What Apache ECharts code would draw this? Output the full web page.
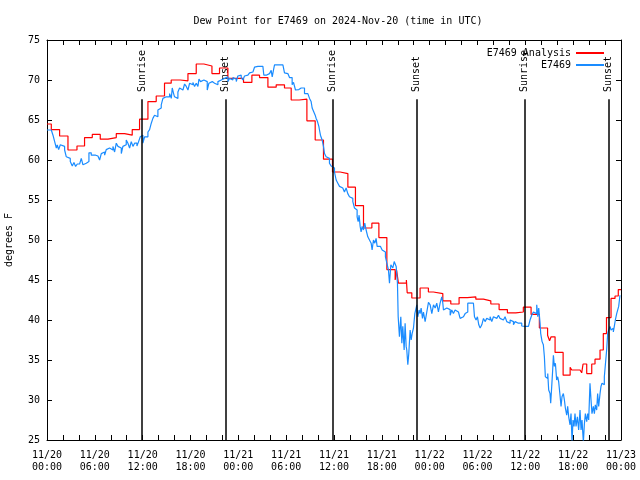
<!DOCTYPE html>
<html><head><meta charset="utf-8">
<script src="https://cdn.jsdelivr.net/npm/echarts@6/dist/echarts.min.js"></script>
<style>html,body{margin:0;padding:0;background:#fff}#c{width:640px;height:480px}</style>
</head><body><div id="c"></div>
<script>
// time axis in hours since 2024-11-20 00:00 UTC
const xTickLabels = ['11/20\n00:00','11/20\n06:00','11/20\n12:00','11/20\n18:00','11/21\n00:00','11/21\n06:00','11/21\n12:00','11/21\n18:00','11/22\n00:00','11/22\n06:00','11/22\n12:00','11/22\n18:00','11/23\n00:00'];

const redT = [0,0.54,1.58,2.63,3.76,4.71,5.68,6.68,7.65,8.69,9.73,10.69,11.61,12.66,13.70,14.74,15.58,16.71,17.68,18.72,19.68,20.69,21.64,22.69,24.65,25.70,26.66,27.71,28.75,29.79,30.63,31.63,32.60,33.64,34.68,35.81,36.77,37.74,38.69,39.70,40.75,41.63,42.63,43.67,43.85,44.08,45.08,45.18,45.76,46.80,47.84,48.47,49.65,50.65,51.69,52.73,53.79,54.74,55.67,56.71,57.75,58.80,59.75,60.72,61.76,62.79,63.04,63.23,63.73,64.74,65.62,65.82,66.86,67.07,67.24,67.70,68.33,68.74,69.37,69.78,70.18,70.75,71.25,71.66,72];
const redV = [64.5,63.8,63.0,61.25,61.75,62.8,63.2,62.6,62.8,63.3,63.1,63.8,65.1,67.3,68.0,69.6,70.0,69.9,70.8,72.0,71.75,70.8,71.5,70.2,69.7,70.6,70.3,69.1,69.4,69.0,67.5,67.6,64.9,62.5,60.1,58.5,58.3,56.6,54.3,51.5,52.1,50.3,46.3,45.0,46.2,44.6,45.0,43.4,42.75,44.0,43.5,43.3,42.4,42.0,42.8,42.9,42.6,42.4,42.0,41.3,40.9,41.0,41.6,40.7,39.0,38.1,37.4,37.9,35.95,33.1,34.1,33.75,33.8,33.4,34.5,33.3,34.5,35.1,36.25,38.3,40.3,42.7,43.0,43.8,43.8];

const blueT = [0.00,0.54,0.75,0.96,1.17,1.29,1.46,1.67,1.88,2.21,2.42,2.63,2.92,3.17,3.38,3.59,3.80,4.09,4.30,4.51,4.72,4.93,5.26,5.55,5.76,6.10,6.39,6.60,6.81,7.02,7.23,7.43,7.64,7.85,8.06,8.27,8.48,8.69,8.90,9.11,9.32,9.52,9.73,9.94,10.15,10.36,10.57,10.78,10.99,11.28,11.49,11.70,11.82,12.03,12.24,12.45,12.66,12.87,13.08,13.28,13.49,13.70,13.91,14.12,14.33,14.54,14.75,
14.96,15.17,15.38,15.59,15.71,15.88,16.00,16.21,16.42,16.63,16.84,17.05,17.26,17.47,17.68,17.89,18.09,18.30,18.51,18.72,18.93,19.06,19.26,19.47,19.68,19.89,20.10,20.31,20.52,20.73,21.02,21.23,21.44,21.65,21.86,22.06,22.27,22.48,22.69,22.90,23.11,23.32,23.53,23.74,23.94,24.15,24.36,24.57,24.78,24.99,25.20,25.41,25.62,25.83,26.03,26.24,26.45,26.66,27.08,27.20,27.50,27.71,27.91,28.12,28.25,28.42,28.54,28.75,29.17,29.59,29.79,
30.00,30.21,30.42,30.63,30.75,30.92,31.09,31.17,31.38,31.59,31.88,32.09,32.30,32.72,32.93,33.13,33.26,33.43,33.64,33.76,33.93,34.10,34.18,34.30,34.51,34.68,34.81,35.01,35.22,35.43,35.64,35.85,36.06,36.27,36.48,36.69,36.90,37.10,37.31,37.52,37.73,37.94,38.15,38.36,38.57,38.78,38.90,39.03,39.15,39.28,39.40,39.53,39.69,39.86,40.03,40.24,40.45,40.66,40.78,40.95,41.12,41.28,41.41,41.62,41.83,42.04,42.24,42.45,
42.63,42.83,42.96,43.13,43.38,43.55,43.80,43.96,44.05,44.21,44.38,44.51,44.63,44.80,44.92,45.05,45.13,45.26,45.38,45.55,45.68,45.80,45.97,46.14,46.30,46.39,46.51,46.68,46.80,46.93,47.10,47.22,47.43,47.64,47.85,48.06,48.27,48.48,48.69,48.89,49.10,49.31,49.52,49.65,49.73,49.94,50.15,50.36,50.57,50.77,50.98,51.19,51.40,51.61,51.82,52.03,52.24,52.45,52.66,52.78,53.07,53.28,53.49,53.62,53.82,53.99,54.16,54.33,54.54,54.75,54.95,55.16,55.37,55.58,55.79,56.00,56.21,56.42,56.63,56.83,57.04,57.25,57.46,57.67,57.88,58.09,58.30,58.51,58.72,58.92,59.13,59.34,59.55,59.76,59.97,60.18,60.39,60.59,60.80,61.01,61.22,61.43,61.56,61.68,61.85,
61.93,62.10,62.26,62.39,62.51,62.68,62.81,62.93,63.10,63.18,63.31,63.43,63.52,63.64,63.77,63.93,64.06,64.18,64.35,64.48,64.60,64.77,64.90,65.02,65.19,65.31,65.44,65.61,65.73,65.86,65.98,66.11,66.23,66.36,66.53,66.69,66.86,66.99,67.11,67.28,67.40,67.53,67.70,67.82,67.95,68.11,68.24,68.36,68.53,68.66,68.78,68.95,69.07,69.20,69.37,69.49,69.62,69.78,69.91,70.04,70.20,70.33,70.45,70.62,70.75,70.87,71.04,71.16,71.29,71.46,71.58,71.71,71.87];
const blueV = [63.75,63.75,63.1,62.3,61.5,61.9,61.3,61.9,61.7,61.25,60.4,60.2,59.8,59.25,59.7,59.2,59.5,59.7,60.2,59.4,59.6,59.8,60.9,60.6,60.6,60.5,60.6,60.0,60.8,61.0,60.6,61.3,61.5,61.7,61.25,61.7,61.0,62.1,61.7,61.5,60.8,61.7,61.9,62.5,62.1,61.5,62.3,61.7,62.1,61.75,62.3,62.9,63.1,62.1,62.9,62.9,63.5,63.8,64.6,65.2,65.6,65.4,66.25,66.5,66.9,67.7,67.9,
68.1,67.9,68.3,67.7,69.0,68.3,67.9,67.7,68.5,69.0,68.75,68.5,69.5,69.2,68.75,69.6,69.4,69.7,69.2,69.6,69.2,70.1,69.8,70.0,70.1,69.8,68.75,69.6,69.8,69.6,69.8,69.4,69.8,70.0,70.0,70.2,70.0,70.4,69.8,70.2,70.0,70.3,70.1,69.8,70.5,70.6,70.3,70.0,70.5,70.6,70.8,70.9,71.0,71.0,71.6,71.7,71.7,71.7,71.7,70.6,70.6,70.8,71.0,71.2,70.4,71.3,71.9,71.9,71.9,71.9,70.9,
70.8,70.6,70.3,70.3,69.4,69.7,69.7,68.75,68.8,69.0,69.2,69.0,68.3,68.25,67.7,67.3,66.5,66.1,65.6,65.2,64.8,64.2,63.75,63.1,62.5,61.7,60.8,60.4,60.2,59.6,59.25,59.0,58.5,57.5,57.1,56.7,56.5,56.25,56.0,56.5,55.8,55.4,55.2,54.8,54.0,53.75,52.9,52.3,53.1,51.7,51.0,51.7,51.25,52.1,51.25,50.4,50.0,49.6,48.75,50.0,49.6,50.2,49.2,49.2,49.4,48.75,48.5,47.9,
47.1,46.25,44.6,46.9,46.5,47.3,46.7,44.6,40.4,37.9,40.4,37.1,39.2,36.25,39.6,36.7,36.25,34.4,35.8,38.75,37.5,38.3,39.0,40.8,40.6,41.9,40.4,41.25,40.8,41.5,40.2,41.0,39.8,41.0,42.2,41.9,40.8,41.9,41.5,42.1,41.0,42.1,42.9,42.1,41.25,41.5,41.25,41.3,40.6,41.25,40.8,41.25,41.0,41.25,40.2,40.4,40.4,40.8,41.0,42.1,42.1,42.1,41.9,40.4,40.0,40.4,39.4,39.0,39.4,40.2,39.8,40.2,40.0,40.4,39.8,40.4,40.2,40.0,40.6,40.2,40.0,40.0,40.4,39.8,39.6,40.0,39.8,39.4,39.8,39.6,39.8,39.6,39.25,39.2,39.0,39.2,39.4,40.0,40.6,41.0,40.8,41.9,40.4,41.5,39.6,
38.3,37.3,36.9,35.4,32.9,32.7,33.3,31.25,30.8,29.6,31.7,33.75,35.6,34.2,34.6,32.5,32.9,32.3,30.6,29.2,30.4,30.8,30.0,29.0,28.1,29.2,27.9,26.9,28.3,24.8,27.5,26.7,28.3,26.7,27.9,26.25,28.75,26.25,27.5,24.7,26.9,28.3,27.3,28.3,27.5,32.1,30.0,28.3,29.2,28.3,29.4,28.75,30.8,29.2,30.8,31.7,32.1,31.9,32.9,34.4,36.25,38.3,38.75,39.2,38.75,38.96,38.5,39.2,40.0,40.8,41.0,41.7,43.1];

const sunT = [11.91, 22.39, 35.86, 46.39, 59.88, 70.41];
const sunLabels = ['Sunrise','Sunset','Sunrise','Sunset','Sunrise','Sunset'];

const FONT = 'DejaVu Sans Mono';
const redData = redT.map((t,i)=>[t, redV[i]]);
const blueData = blueT.map((t,i)=>[t, blueV[i]]);

const chart = echarts.init(document.getElementById('c'), null, {renderer:'canvas'});
const axisCommon = {
  min: 0, max: 72, interval: 2,
  axisLine: {show:true, onZero:false, lineStyle:{color:'#000', width:1}},
  axisTick: {show:true, inside:true, length:5, lineStyle:{color:'#000'}},
  splitLine: {show:false}
};
const yCommon = {
  type:'value', min:25, max:75, interval:5,
  axisLine: {show:true, onZero:false, lineStyle:{color:'#000', width:1}},
  axisTick: {show:true, inside:true, length:5, lineStyle:{color:'#000'}},
  splitLine: {show:false}
};
chart.setOption({
  animation:false,
  backgroundColor:'#fff',
  title: {text:'Dew Point for E7469 on 2024-Nov-20 (time in UTC)', left:333, textAlign:'center', top:11,
    textStyle:{fontFamily:FONT, fontSize:10, fontWeight:'normal', color:'#000'}},
  legend: {data:['E7469 Analysis','E7469'], orient:'vertical', right:30, top:43, align:'right',
    itemWidth:28, itemHeight:12, itemGap:2,
    itemStyle:{opacity:0},
    textStyle:{fontFamily:FONT, fontSize:10, color:'#000'}},
  grid: {left:47, right:19, top:40, bottom:40, containLabel:false, outerBoundsMode:'none'},
  xAxis: [
    Object.assign({type:'value', position:'bottom',
      axisLabel:{show:true, margin:9, fontFamily:FONT, fontSize:10, color:'#000', lineHeight:12, hideOverlap:false,
        formatter: v => (v % 6 === 0 ? xTickLabels[v/6] : '')}}, axisCommon),
    Object.assign({type:'value', position:'top', axisLabel:{show:false}}, axisCommon)
  ],
  yAxis: [
    Object.assign({position:'left', name:'degrees F', nameLocation:'middle', nameGap:33, nameRotate:90,
      nameTextStyle:{fontFamily:FONT, fontSize:10, color:'#000'},
      axisLabel:{show:true, margin:7, fontFamily:FONT, fontSize:10, color:'#000'}}, yCommon),
    Object.assign({position:'right', axisLabel:{show:false}}, yCommon)
  ],
  series: [
    {name:'sun', type:'scatter', symbolSize:0, silent:true, z:1,
      itemStyle:{opacity:1},
      data: sunT.map((t,i)=>({value:[t, 68.5], name:sunLabels[i]})),
      label:{show:true, opacity:1, formatter:p=>p.name, rotate:90, position:[0,0], align:'left', verticalAlign:'middle',
        fontFamily:FONT, fontSize:10, color:'#000'},
      markLine:{symbol:['none','none'], silent:true, animation:false, label:{show:false},
        lineStyle:{color:'#000', width:1.5, type:'solid', opacity:1},
        data: sunT.map(t=>[{coord:[t,67.6]},{coord:[t,25]}])}
    },
    {name:'E7469 Analysis', type:'line', step:'end', data:redData, symbol:'none', showSymbol:false,
      color:'#ff0000', lineStyle:{color:'#ff0000', width:1.2}, z:2},
    {name:'E7469', type:'line', step:'end', data:blueData, symbol:'none', showSymbol:false,
      color:'#1a8cff', lineStyle:{color:'#1a8cff', width:1.2}, z:3}
  ]
});
</script></body></html>
